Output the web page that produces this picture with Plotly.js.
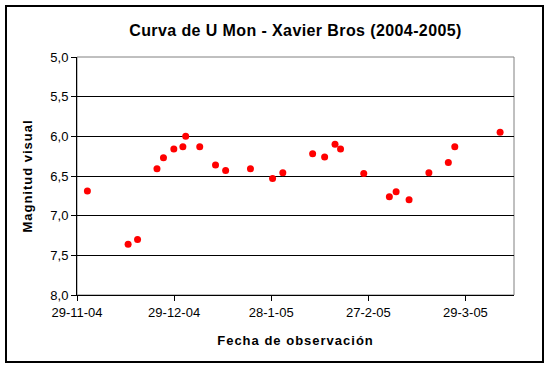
<!DOCTYPE html>
<html>
<head>
<meta charset="utf-8">
<script src="https://cdn.plot.ly/plotly-3.0.1.min.js"></script>
<style>
html,body{margin:0;padding:0;background:#fff;}
#chart{width:551px;height:369px;}
#chart text.xtitle, #chart text.ytitle{letter-spacing:1px;}
#chart text.gtitle{letter-spacing:0.4px;}
</style>
</head>
<body>
<div id="chart"></div>
<script>
const fechas = [
  "2004-12-02 05:00","2004-12-14 19:00","2004-12-17 17:00","2004-12-23 17:00",
  "2004-12-25 17:00","2004-12-28 22:00","2004-12-31 17:00","2005-01-01 14:00",
  "2005-01-05 22:00","2005-01-10 19:00","2005-01-13 22:00","2005-01-21 14:00",
  "2005-01-28 10:00","2005-01-31 14:00","2005-02-09 19:00","2005-02-13 12:00",
  "2005-02-16 17:00","2005-02-18 10:00","2005-02-25 14:00","2005-03-05 12:00",
  "2005-03-07 14:00","2005-03-11 14:00","2005-03-17 17:00","2005-03-23 17:00",
  "2005-03-25 17:00","2005-04-08 17:00"
];
const magnitudes = [
  6.69, 7.36, 7.30, 6.41, 6.27, 6.16, 6.13, 6.00,
  6.13, 6.36, 6.43, 6.41, 6.53, 6.46, 6.22, 6.26,
  6.10, 6.16, 6.47, 6.76, 6.70, 6.80, 6.46, 6.33,
  6.13, 5.95
];
const xRange = ["2004-11-29", "2005-04-13"];
const yRange = [8, 5];

const W = 551, H = 369;
const L = 77, R = 37, T = 57, B = 74;
const pw = W - L - R, ph = H - T - B;
function px(x){ return (x - L) / pw; }
function py(y){ return 1 - (y - T) / ph; }

const trace = {
  x: fechas, y: magnitudes, type: "scatter", mode: "markers",
  marker: {color: "#FF0000", size: 7, symbol: "circle", line: {width: 0}},
  hoverinfo: "skip", showlegend: false
};

const layout = {
  width: W, height: H,
  margin: {l: L, r: R, t: T, b: B, pad: 0},
  paper_bgcolor: "#ffffff", plot_bgcolor: "#ffffff",
  separators: ",.",
  font: {family: "Liberation Sans, Arial, sans-serif", size: 13, color: "#000"},
  title: {
    text: "<b>Curva de U Mon - Xavier Bros (2004-2005)</b>",
    font: {family: "Liberation Sans, Arial, sans-serif", size: 16, color: "#000"},
    x: 0.5, xref: "paper", y: 1 - 30 / H, yanchor: "middle"
  },
  xaxis: {
    type: "date", range: xRange,
    tick0: "2004-11-29", dtick: 30 * 86400000, tickformat: "%-d-%-m-%y",
    ticks: "outside", ticklen: 5, tickcolor: "#000", tickwidth: 1,
    showline: true, linecolor: "#000", linewidth: 1, mirror: false,
    showgrid: false, zeroline: false,
    tickfont: {size: 13, color: "#000"},
    title: {text: "<b>Fecha de observación</b>", font: {size: 13, color: "#000"}, standoff: 17}
  },
  yaxis: {
    range: yRange, dtick: 0.5, tick0: 5, tickformat: ".1f",
    ticks: "outside", ticklen: 5, tickcolor: "#000", tickwidth: 1,
    showline: true, linecolor: "#000", linewidth: 1, mirror: false,
    showgrid: true, gridcolor: "#000", gridwidth: 1, zeroline: false,
    tickfont: {size: 13, color: "#000"},
    title: {text: "<b>Magnitud visual</b>", font: {size: 13, color: "#000"}, standoff: 14}
  },
  shapes: [
    {type: "rect", xref: "paper", yref: "paper", x0: 0, x1: 1, y0: 0, y1: 1,
     line: {color: "#808080", width: 1}, layer: "below"},
    {type: "rect", xref: "paper", yref: "paper",
     x0: px(6), x1: px(543), y0: py(362), y1: py(6),
     line: {color: "#000", width: 2}, layer: "below"}
  ]
};

Plotly.newPlot("chart", [trace], layout, {staticPlot: true, displayModeBar: false});
</script>
</body>
</html>
